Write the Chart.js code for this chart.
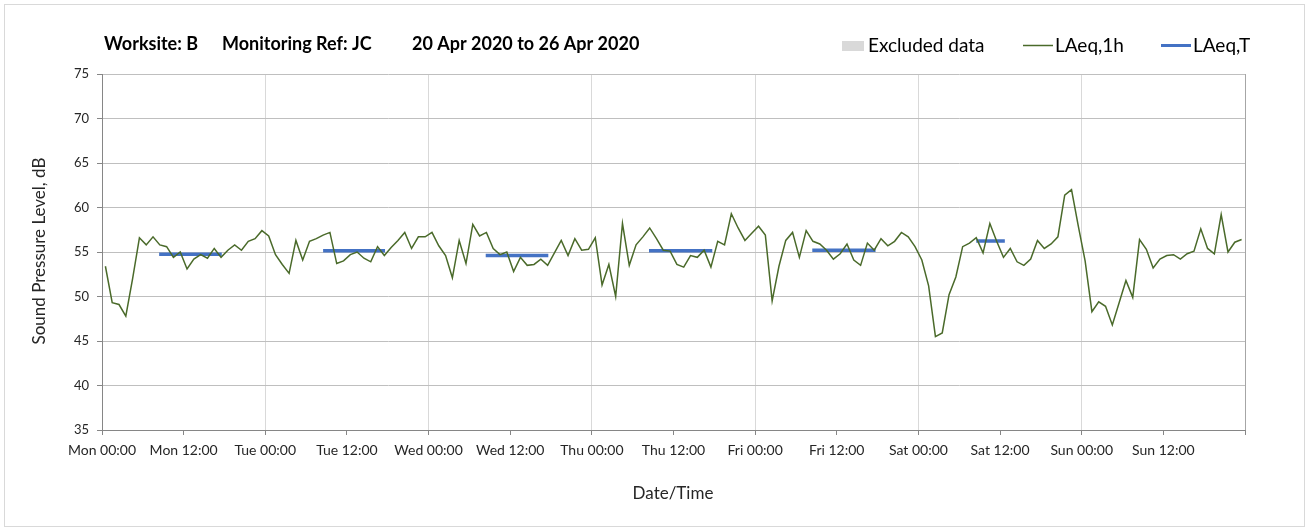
<!DOCTYPE html>
<html>
<head>
<meta charset="utf-8">
<script src="https://cdn.jsdelivr.net/npm/chart.js@4.4.0/dist/chart.umd.min.js"></script>
<style>
  html, body { margin: 0; padding: 0; background: #fff; }
  #wrap { width: 1309px; height: 531px; }
</style>
</head>
<body>
<div id="wrap"><canvas id="noiseChart" width="1309" height="531"></canvas></div>
<script>
// Monitoring data, Worksite B, Mon 20 Apr 2020 00:00 to Sun 26 Apr 2020 23:00
let monitoring = {
  worksite: "B",
  ref: "JC",
  period: "20 Apr 2020 to 26 Apr 2020",
  // hourly LAeq,1h, one value per hour from Mon 00:00
  laeq1h: [
    53.4, 49.3, 49.1, 47.8, 52.0, 56.6, 55.8, 56.7, 55.8, 55.6, 54.4, 55.0,
    53.1, 54.2, 54.7, 54.3, 55.4, 54.4, 55.2, 55.8, 55.2, 56.2, 56.5, 57.4,
    56.8, 54.7, 53.6, 52.6, 56.3, 54.1, 56.2, 56.5, 56.9, 57.2, 53.7, 54.0,
    54.7, 55.0, 54.3, 53.9, 55.6, 54.6, 55.5, 56.3, 57.2, 55.4, 56.7, 56.7,
    57.2, 55.7, 54.6, 52.1, 56.3, 53.7, 58.1, 56.8, 57.2, 55.4, 54.7, 55.0,
    52.8, 54.4, 53.5, 53.6, 54.2, 53.5, 54.9, 56.3, 54.6, 56.5, 55.2, 55.3,
    56.6, 51.3, 53.6, 50.0, 58.2, 53.5, 55.8, 56.7, 57.7, 56.5, 55.2, 55.1,
    53.6, 53.3, 54.6, 54.4, 55.2, 53.3, 56.2, 55.8, 59.3, 57.7, 56.3, 57.1,
    57.9, 56.9, 49.5, 53.4, 56.3, 57.2, 54.4, 57.4, 56.2, 55.9, 55.2, 54.2,
    54.8, 55.9, 54.1, 53.5, 56.0, 55.2, 56.5, 55.7, 56.2, 57.2, 56.7, 55.6,
    54.1, 51.2, 45.5, 45.9, 50.2, 52.2, 55.6, 56.0, 56.6, 54.9, 58.2, 56.2,
    54.4, 55.4, 53.9, 53.5, 54.2, 56.3, 55.4, 55.9, 56.7, 61.4, 62.0, 57.9,
    54.0, 48.3, 49.4, 48.9, 46.8, 49.3, 51.8, 49.9, 56.4, 55.3, 53.2, 54.2,
    54.6, 54.7, 54.2, 54.8, 55.1, 57.6, 55.4, 54.8, 59.2, 55.0, 56.1, 56.4
  ],
  // daytime LAeq,T periods, hours from Mon 00:00
  laeqT: [
    { start: 8.4, end: 17.6, value: 54.75 },
    { start: 32.5, end: 41.6, value: 55.15 },
    { start: 56.4, end: 65.6, value: 54.6 },
    { start: 80.4, end: 89.7, value: 55.15 },
    { start: 104.4, end: 113.7, value: 55.2 },
    { start: 128.5, end: 132.7, value: 56.25 }
  ]
};

const days = ["Mon", "Tue", "Wed", "Thu", "Fri", "Sat", "Sun"];
const FONT = "Lato, 'Open Sans', sans-serif";
const GREEN = "#4a6a2a";
const BLUE = "#4472c4";

// hourly points sit at the middle of each hour
const hourlyPoints = monitoring.laeq1h.map((v, i) => ({ x: i + 0.5, y: v }));

// one flat segment per period, broken with nulls
const periodPoints = [];
monitoring.laeqT.forEach(p => {
  periodPoints.push({ x: p.start, y: p.value }, { x: p.end, y: p.value }, { x: p.end, y: null });
});

// Title, legend, axis titles and frame
const decorations = {
  id: "decorations",
  afterDraw(chart) {
    const c = chart.ctx;
    c.save();
    c.strokeStyle = "#d9d9d9";
    c.lineWidth = 1;
    c.strokeRect(4.5, 4.5, 1300, 522);

    c.fillStyle = "#000";
    c.textBaseline = "alphabetic";
    c.textAlign = "left";
    c.font = "bold 18px " + FONT;
    c.fillText("Worksite: " + monitoring.worksite, 104, 50);
    c.fillText("Monitoring Ref: " + monitoring.ref, 222, 50);
    c.fillText(monitoring.period, 412, 50);

    // legend
    c.font = "19px " + FONT;
    c.fillStyle = "#d9d9d9";
    c.fillRect(842, 41, 22, 10);
    c.fillStyle = "#000";
    c.fillText("Excluded data", 868, 52);
    c.strokeStyle = GREEN;
    c.lineWidth = 1.5;
    c.beginPath(); c.moveTo(1023, 45.5); c.lineTo(1053, 45.5); c.stroke();
    c.fillText("LAeq,1h", 1055, 52);
    c.strokeStyle = BLUE;
    c.lineWidth = 3;
    c.beginPath(); c.moveTo(1161, 45.5); c.lineTo(1191, 45.5); c.stroke();
    c.fillText("LAeq,T", 1193, 52);

    // axis titles
    c.fillStyle = "#262626";
    c.font = "17px " + FONT;
    c.textAlign = "center";
    c.textBaseline = "middle";
    c.fillText("Date/Time", 673, 494);
    c.translate(40, 251);
    c.rotate(-Math.PI / 2);
    c.fillText("Sound Pressure Level, dB", 0, 0);
    c.restore();
  }
};

const ctx = document.getElementById("noiseChart");
let noiseChart = new Chart(ctx, {
  type: "line",
  data: {
    datasets: [
      {
        label: "LAeq,1h",
        data: hourlyPoints,
        borderColor: GREEN,
        borderWidth: 1.5,
        pointRadius: 0,
        tension: 0
      },
      {
        label: "LAeq,T",
        data: periodPoints,
        borderColor: BLUE,
        borderWidth: 3.5,
        borderCapStyle: "butt",
        pointRadius: 0,
        spanGaps: false
      }
    ]
  },
  options: {
    responsive: false,
    devicePixelRatio: 1,
    animation: false,
    layout: { padding: { top: 74, right: 64, left: 0, bottom: 0 } },
    plugins: {
      legend: { display: false },
      title: { display: false },
      tooltip: { enabled: false }
    },
    scales: {
      x: {
        type: "linear",
        min: 0,
        max: 168,
        afterFit: s => { s.height = 101; },
        ticks: {
          stepSize: 12,
          autoSkip: false,
          maxRotation: 0,
          padding: 7,
          color: "#262626",
          font: { family: FONT, size: 14 },
          callback: v => v >= 168 ? "" : days[Math.floor(v / 24)] + " " + (v % 24 === 0 ? "00:00" : "12:00")
        },
        grid: {
          color: c => c.tick && c.tick.value === 168 ? "#a6a6a6" : (c.tick && c.tick.value % 24 === 0 ? "#d9d9d9" : "rgba(0,0,0,0)"),
          tickColor: "#868686",
          tickLength: 5
        },
        border: { color: "#868686" }
      },
      y: {
        min: 35,
        max: 75,
        afterFit: s => { s.width = 102; },
        ticks: {
          stepSize: 5,
          padding: 8,
          color: "#262626",
          font: { family: FONT, size: 13 }
        },
        grid: { color: "#bfbfbf", tickColor: "#868686", tickLength: 5 },
        border: { color: "#868686" }
      }
    }
  },
  plugins: [decorations]
});
</script>
</body>
</html>
